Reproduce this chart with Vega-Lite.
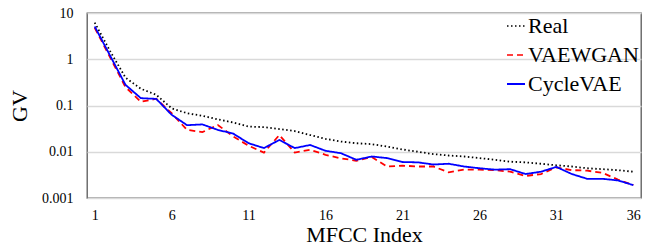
{
  "$schema": "https://vega.github.io/schema/vega-lite/v6.json",
  "autosize": "none",
  "width": 554,
  "height": 185,
  "padding": {"left": 87, "top": 13, "right": 6, "bottom": 50},
  "background": "white",
  "config": {
    "font": "Liberation Serif",
    "axis": {"labelFont": "Liberation Serif", "titleFont": "Liberation Serif"},
    "legend": {"labelFont": "Liberation Serif", "titleFont": "Liberation Serif"},
    "view": {"stroke": "#595959", "strokeWidth": 1.3}
  },
  "data": {"values": [
    {"i":1,"Real":6.2,"VAEWGAN":4.8,"CycleVAE":5.1},
    {"i":2,"Real":1.5,"VAEWGAN":1.1,"CycleVAE":1.2},
    {"i":3,"Real":0.40,"VAEWGAN":0.25,"CycleVAE":0.28},
    {"i":4,"Real":0.23,"VAEWGAN":0.12,"CycleVAE":0.144},
    {"i":5,"Real":0.17,"VAEWGAN":0.14,"CycleVAE":0.139},
    {"i":6,"Real":0.087,"VAEWGAN":0.068,"CycleVAE":0.063},
    {"i":7,"Real":0.068,"VAEWGAN":0.0297,"CycleVAE":0.0375},
    {"i":8,"Real":0.060,"VAEWGAN":0.0265,"CycleVAE":0.039},
    {"i":9,"Real":0.050,"VAEWGAN":0.038,"CycleVAE":0.0297},
    {"i":10,"Real":0.043,"VAEWGAN":0.0214,"CycleVAE":0.0247},
    {"i":11,"Real":0.035,"VAEWGAN":0.0135,"CycleVAE":0.0153},
    {"i":12,"Real":0.034,"VAEWGAN":0.0096,"CycleVAE":0.012},
    {"i":13,"Real":0.031,"VAEWGAN":0.023,"CycleVAE":0.018},
    {"i":14,"Real":0.028,"VAEWGAN":0.0096,"CycleVAE":0.012},
    {"i":15,"Real":0.023,"VAEWGAN":0.011,"CycleVAE":0.014},
    {"i":16,"Real":0.019,"VAEWGAN":0.0086,"CycleVAE":0.0105},
    {"i":17,"Real":0.0166,"VAEWGAN":0.0072,"CycleVAE":0.0093},
    {"i":18,"Real":0.0153,"VAEWGAN":0.0064,"CycleVAE":0.0067},
    {"i":19,"Real":0.0146,"VAEWGAN":0.0077,"CycleVAE":0.0079},
    {"i":20,"Real":0.0129,"VAEWGAN":0.0048,"CycleVAE":0.0073},
    {"i":21,"Real":0.0112,"VAEWGAN":0.0050,"CycleVAE":0.0060},
    {"i":22,"Real":0.0100,"VAEWGAN":0.0048,"CycleVAE":0.0059},
    {"i":23,"Real":0.0089,"VAEWGAN":0.0048,"CycleVAE":0.0053},
    {"i":24,"Real":0.0083,"VAEWGAN":0.0036,"CycleVAE":0.0055},
    {"i":25,"Real":0.0079,"VAEWGAN":0.0041,"CycleVAE":0.0048},
    {"i":26,"Real":0.0073,"VAEWGAN":0.0041,"CycleVAE":0.0044},
    {"i":27,"Real":0.0067,"VAEWGAN":0.0040,"CycleVAE":0.0041},
    {"i":28,"Real":0.0061,"VAEWGAN":0.0037,"CycleVAE":0.0042},
    {"i":29,"Real":0.0059,"VAEWGAN":0.0030,"CycleVAE":0.0033},
    {"i":30,"Real":0.0055,"VAEWGAN":0.0033,"CycleVAE":0.0037},
    {"i":31,"Real":0.0051,"VAEWGAN":0.0046,"CycleVAE":0.0047},
    {"i":32,"Real":0.0048,"VAEWGAN":0.0040,"CycleVAE":0.0033},
    {"i":33,"Real":0.0044,"VAEWGAN":0.0039,"CycleVAE":0.0026},
    {"i":34,"Real":0.0042,"VAEWGAN":0.0035,"CycleVAE":0.0026},
    {"i":35,"Real":0.0040,"VAEWGAN":0.0025,"CycleVAE":0.0024},
    {"i":36,"Real":0.0037,"VAEWGAN":0.0019,"CycleVAE":0.0019}
  ]},
  "transform": [
    {"fold": ["Real", "VAEWGAN", "CycleVAE"], "as": ["series", "gv"]}
  ],
  "mark": {"type": "line", "strokeWidth": 1.8, "clip": true},
  "encoding": {
    "x": {
      "field": "i", "type": "quantitative",
      "scale": {"domain": [0.5, 36.5], "nice": false, "zero": false},
      "axis": {
        "values": [1, 6, 11, 16, 21, 26, 31, 36],
        "title": "MFCC Index", "titleFontSize": 22, "titleFontWeight": "normal",
        "titleFont": "Liberation Serif", "labelFont": "Liberation Serif",
        "titleColor": "#000", "titlePadding": 2,
        "labelFontSize": 14, "labelColor": "#000", "labelPadding": 10,
        "ticks": false, "grid": false, "domain": false
      }
    },
    "y": {
      "field": "gv", "type": "quantitative",
      "scale": {"type": "log", "domain": [0.001, 10], "nice": false},
      "axis": {
        "values": [0.001, 0.01, 0.1, 1, 10],
        "format": "~g",
        "title": "GV", "titleFontSize": 22, "titleFontWeight": "normal",
        "titleFont": "Liberation Serif", "labelFont": "Liberation Serif",
        "titleColor": "#000", "titlePadding": 10,
        "labelFontSize": 14, "labelColor": "#000", "labelPadding": 14,
        "ticks": false, "domain": false,
        "grid": true, "gridColor": "#d9d9d9", "gridWidth": 1.3
      }
    },
    "color": {
      "field": "series", "type": "nominal",
      "scale": {"domain": ["Real", "VAEWGAN", "CycleVAE"], "range": ["#000000", "#ff0000", "#0000ff"]},
      "legend": {
        "title": null, "orient": "none", "legendX": 418, "legendY": 2,
        "symbolType": "stroke", "symbolSize": 324, "symbolStrokeWidth": 1.8,
        "labelFont": "Liberation Serif",
        "labelFontSize": 22, "labelColor": "#000", "labelOffset": 1, "rowPadding": 7
      }
    },
    "strokeDash": {
      "field": "series", "type": "nominal",
      "scale": {"domain": ["Real", "VAEWGAN", "CycleVAE"], "range": [[1.5, 2.5], [6, 4], [1, 0]]},
      "legend": null
    },
    "strokeWidth": {
      "field": "series", "type": "nominal",
      "scale": {"domain": ["Real", "VAEWGAN", "CycleVAE"], "range": [1.3, 1.8, 1.8]},
      "legend": null
    }
  }
}
